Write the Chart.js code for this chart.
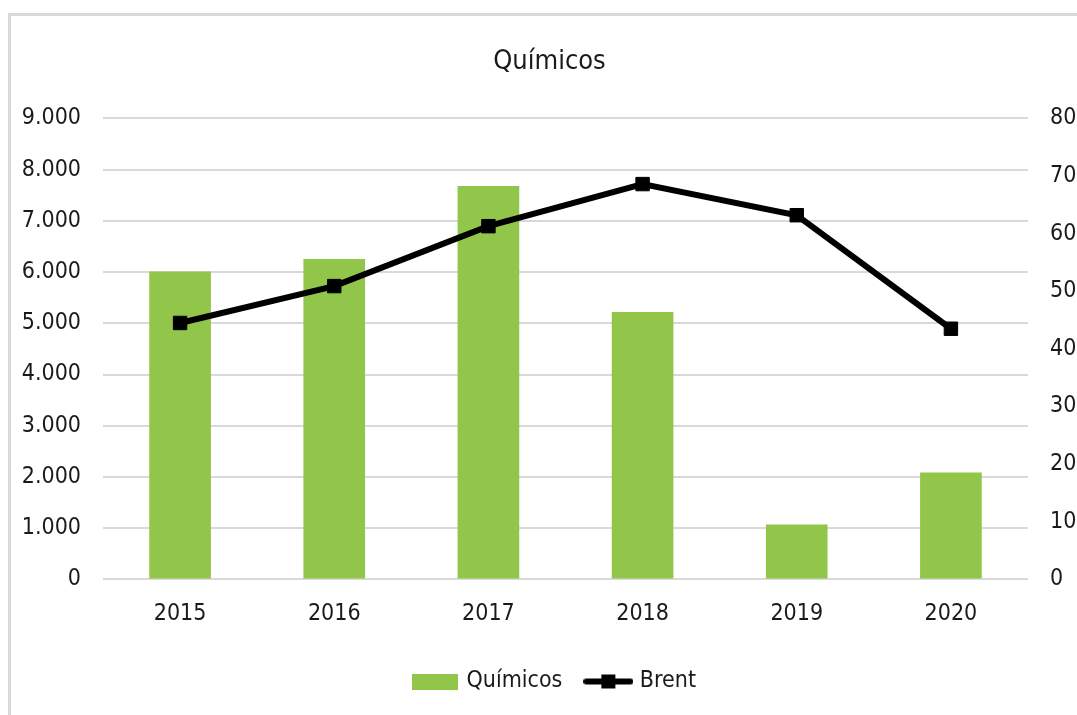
<!DOCTYPE html>
<html>
<head>
<meta charset="utf-8">
<script src="https://cdn.jsdelivr.net/npm/chart.js@4.4.1/dist/chart.umd.min.js"></script>
<style>
  html, body { margin: 0; padding: 0; background: #fff; overflow: hidden; }
  #frame {
    position: absolute; left: 8px; top: 13px; width: 1200px; height: 800px;
    border: 3px solid #d9d9d9; box-sizing: border-box;
  }
  #wrap { position: absolute; left: 0; top: 0; width: 1077px; height: 715px; }
</style>
</head>
<body>
<div id="frame"></div>
<div id="wrap"><canvas id="chart"></canvas></div>
<script>
"use strict";

/* ── Datos ─────────────────────────────────────────────────────── */
const YEARS    = ["2015", "2016", "2017", "2018", "2019", "2020"];
const QUIMICOS = [6010, 6255, 7680, 5220, 1070, 2085];
const BRENT    = [44.5, 50.9, 61.3, 68.6, 63.2, 43.5];

const LEFT_TICKS  = [0, 1000, 2000, 3000, 4000, 5000, 6000, 7000, 8000, 9000];
const RIGHT_TICKS = [0, 10, 20, 30, 40, 50, 60, 70, 80];

/* ── Estilos ───────────────────────────────────────────────────── */
const FONT   = "'Liberation Sans Narrow', 'DejaVu Sans Condensed', sans-serif";
const GREEN  = "#92c64a";
const BLACK  = "#000000";
const GRID   = "#d9d9d9";
const TEXT   = "#1a1a1a";

function fmtMiles(v) {
  return v.toLocaleString("de-DE");
}

/* Símbolos de leyenda como canvas pequeños */
function boxSymbol() {
  const c = document.createElement("canvas");
  c.width = 46; c.height = 16;
  const g = c.getContext("2d");
  g.fillStyle = GREEN;
  g.fillRect(0, 0, 46, 16);
  return c;
}
function lineSymbol() {
  const c = document.createElement("canvas");
  c.width = 50; c.height = 16;
  const g = c.getContext("2d");
  g.strokeStyle = BLACK;
  g.lineWidth = 6;
  g.lineCap = "round";
  g.beginPath(); g.moveTo(3, 8); g.lineTo(47, 8); g.stroke();
  g.fillStyle = BLACK;
  g.fillRect(18, 1, 14, 14);
  return c;
}

/* Desplaza título y leyenda un poco a la derecha, como en el original */
const blockShift = {
  id: "blockShift",
  afterLayout(chart) {
    const t = chart.titleBlock;
    if (t) { t.left += 11; t.right += 11; }
    const l = chart.legend;
    if (l) { l.left += 17; l.right += 17; }
  }
};

const ctx = document.getElementById("chart");

new Chart(ctx, {
  plugins: [blockShift],
  data: {
    labels: YEARS,
    datasets: [
      {
        type: "line",
        label: "Brent",
        data: BRENT,
        yAxisID: "y2",
        borderColor: BLACK,
        borderWidth: 6,
        pointStyle: "rect",
        pointRadius: 9.5,
        pointBackgroundColor: BLACK,
        pointBorderColor: BLACK,
        pointBorderWidth: 1,
        tension: 0,
        order: 0,
      },
      {
        type: "bar",
        label: "Químicos",
        data: QUIMICOS,
        yAxisID: "y",
        backgroundColor: GREEN,
        barPercentage: 0.4,
        categoryPercentage: 1.0,
        order: 1,
      },
    ]
  },
  options: {
    responsive: true,
    maintainAspectRatio: false,
    animation: false,
    layout: { padding: { left: 0, right: 0, top: 0, bottom: 12 } },
    scales: {
      x: {
        grid: { display: false },
        border: { display: false },
        afterFit: s => { s.height += 3; },
        ticks: { color: TEXT, font: { family: FONT, size: 23 }, padding: 13 },
      },
      y: {
        position: "left",
        min: 0, max: 9000,
        afterBuildTicks: s => { s.ticks = LEFT_TICKS.map(v => ({ value: v })); },
        afterFit: s => { s.width = 103; },
        grid: { color: GRID, lineWidth: 2, drawTicks: false },
        border: { display: false },
        ticks: {
          color: TEXT, font: { family: FONT, size: 23 }, padding: 22,
          callback: v => fmtMiles(v),
        },
      },
      y2: {
        position: "right",
        min: 0, max: 80,
        afterBuildTicks: s => { s.ticks = RIGHT_TICKS.map(v => ({ value: v })); },
        afterFit: s => { s.width = 49; },
        grid: { display: false, drawTicks: false },
        border: { display: false },
        ticks: { color: TEXT, font: { family: FONT, size: 23 }, padding: 22 },
      },
    },
    plugins: {
      title: {
        display: true,
        text: "Químicos",
        color: TEXT,
        font: { family: FONT, size: 27, weight: "normal" },
        padding: { top: 46, bottom: 40 },
      },
      legend: {
        position: "bottom",
        labels: {
          color: TEXT,
          font: { family: FONT, size: 23 },
          usePointStyle: true,
          pointStyleWidth: 40,
          padding: 26,
          generateLabels: chart => [
            { text: "Químicos", pointStyle: boxSymbol(), datasetIndex: 1, fontColor: TEXT, lineWidth: 0 },
            { text: "Brent",    pointStyle: lineSymbol(), datasetIndex: 0, fontColor: TEXT, lineWidth: 0 },
          ],
        },
      },
      tooltip: { enabled: false },
    },
  },
});
</script>
</body>
</html>
